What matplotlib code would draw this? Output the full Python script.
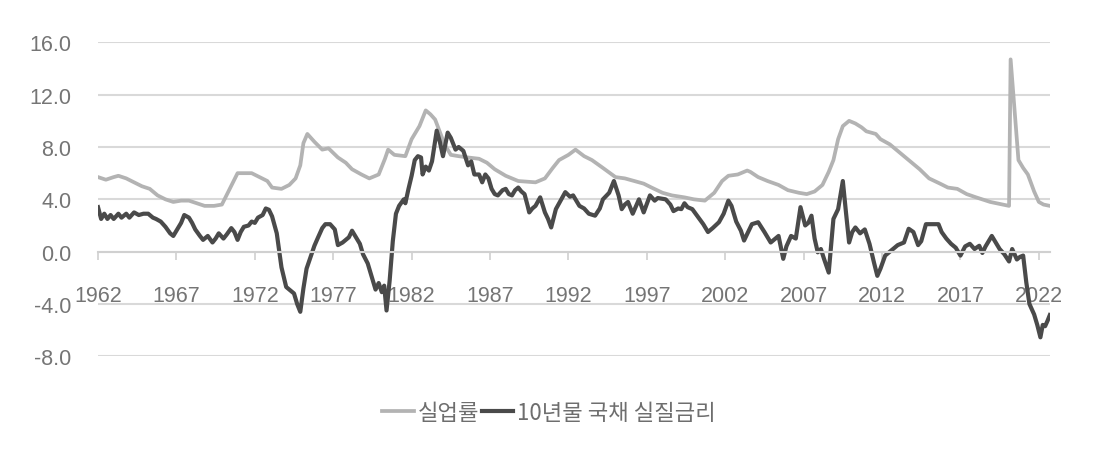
import matplotlib
matplotlib.use("Agg")
import matplotlib.pyplot as plt

# 실업률 (unemployment rate)
unemp_years = [
    1962.0, 1962.5, 1963.0, 1963.3, 1963.8, 1964.3, 1964.8, 1965.3, 1965.8, 1966.3,
    1966.8, 1967.3, 1967.8, 1968.3, 1968.8, 1969.4, 1969.9, 1970.4, 1970.9, 1971.3,
    1971.8, 1972.3, 1972.8, 1973.1, 1973.7, 1974.2, 1974.6, 1974.9, 1975.1, 1975.35,
    1975.8, 1976.3, 1976.7, 1977.3, 1977.8, 1978.2, 1978.8, 1979.3, 1979.9, 1980.3,
    1980.5, 1980.9, 1981.6, 1982.0, 1982.5, 1982.9, 1983.2, 1983.5, 1984.1, 1984.5,
    1985.0, 1985.6, 1986.3, 1986.8, 1987.3, 1988.0, 1988.8, 1989.9, 1990.5, 1991.0,
    1991.4, 1992.0, 1992.45, 1993.0, 1993.5, 1994.2, 1995.0, 1995.6, 1996.2, 1996.8,
    1997.3, 1998.0, 1998.6, 1999.4, 2000.0, 2000.7, 2001.3, 2001.8, 2002.2, 2002.8,
    2003.4, 2003.6, 2004.1, 2004.7, 2005.4, 2006.0, 2006.7, 2007.2, 2007.7, 2008.2,
    2008.6, 2008.9, 2009.2, 2009.5, 2009.9, 2010.3, 2010.7, 2011.0, 2011.6, 2011.9,
    2012.5, 2013.1, 2013.7, 2014.4, 2015.0, 2015.7, 2016.2, 2016.8, 2017.4, 2018.0,
    2018.9, 2019.5, 2020.1, 2020.2, 2020.7, 2021.0, 2021.3, 2021.7, 2022.0, 2022.3,
    2022.7,
]
unemp_values = [
    5.7, 5.5, 5.7, 5.8, 5.6, 5.3, 5.0, 4.8, 4.3, 4.0,
    3.8, 3.9, 3.9, 3.7, 3.5, 3.5, 3.6, 4.8, 6.0, 6.0,
    6.0, 5.7, 5.4, 4.9, 4.8, 5.1, 5.6, 6.6, 8.3, 9.0,
    8.4, 7.8, 7.9, 7.2, 6.8, 6.3, 5.9, 5.6, 5.9, 7.1,
    7.8, 7.4, 7.3, 8.6, 9.6, 10.8, 10.5, 10.1, 8.2, 7.4,
    7.3, 7.2, 7.1, 6.8, 6.3, 5.8, 5.4, 5.3, 5.6, 6.4,
    7.0, 7.4, 7.8, 7.3, 7.0, 6.4, 5.7, 5.6, 5.4, 5.2,
    4.9, 4.5, 4.3, 4.15, 4.0, 3.9, 4.5, 5.4, 5.8, 5.9,
    6.2, 6.1, 5.7, 5.4, 5.1, 4.7, 4.5, 4.4, 4.6, 5.1,
    6.1, 7.0, 8.6, 9.6, 10.0, 9.8, 9.5, 9.2, 9.0, 8.6,
    8.2, 7.6, 7.0, 6.3, 5.6, 5.2, 4.9, 4.8, 4.4, 4.15,
    3.8, 3.65, 3.5, 14.7, 7.0, 6.4, 5.9, 4.6, 3.8, 3.6,
    3.5,
]

real_years = [
    1962.0, 1962.2, 1962.4, 1962.6, 1962.8, 1963.0, 1963.3, 1963.5, 1963.8, 1964.0,
    1964.3, 1964.6, 1964.9, 1965.2, 1965.5, 1965.7, 1966.0, 1966.3, 1966.6, 1966.8,
    1967.0, 1967.3, 1967.5, 1967.8, 1968.0, 1968.2, 1968.5, 1968.7, 1969.0, 1969.3,
    1969.5, 1969.7, 1970.0, 1970.2, 1970.5, 1970.7, 1970.9, 1971.1, 1971.3, 1971.6,
    1971.8, 1972.0, 1972.2, 1972.5, 1972.7, 1972.9, 1973.1, 1973.4, 1973.7, 1974.0,
    1974.3, 1974.5, 1974.7, 1974.9, 1975.1, 1975.3, 1975.5, 1975.8, 1976.0, 1976.3,
    1976.5, 1976.8, 1977.1, 1977.3, 1977.6, 1977.8, 1978.0, 1978.2, 1978.5, 1978.7,
    1978.9, 1979.2, 1979.5, 1979.7, 1979.9, 1980.1, 1980.25, 1980.4, 1980.6, 1980.8,
    1981.0, 1981.2, 1981.5, 1981.6, 1981.8, 1982.0, 1982.2, 1982.4, 1982.6, 1982.7,
    1982.9, 1983.1, 1983.3, 1983.6, 1983.8, 1984.0, 1984.3, 1984.5, 1984.8, 1985.0,
    1985.3, 1985.6, 1985.8, 1986.0, 1986.3, 1986.5, 1986.7, 1986.9, 1987.1, 1987.3,
    1987.5, 1987.8, 1988.0, 1988.2, 1988.4, 1988.6, 1988.8, 1989.0, 1989.2, 1989.4,
    1989.5, 1989.7, 1989.9, 1990.2, 1990.5, 1990.7, 1990.9, 1991.2, 1991.5, 1991.8,
    1992.1, 1992.3, 1992.7, 1993.0, 1993.3, 1993.7, 1994.0, 1994.2, 1994.6, 1994.9,
    1995.2, 1995.4, 1995.6, 1995.8, 1996.1, 1996.5, 1996.8, 1997.2, 1997.5, 1997.7,
    1998.2, 1998.5, 1998.7, 1999.0, 1999.2, 1999.4, 1999.6, 1999.9, 2000.3, 2000.6,
    2000.9, 2001.2, 2001.6, 2001.9, 2002.2, 2002.4, 2002.7, 2003.0, 2003.2, 2003.5,
    2003.7, 2004.1, 2004.5, 2004.9, 2005.2, 2005.4, 2005.7, 2005.9, 2006.2, 2006.5,
    2006.8, 2007.1, 2007.3, 2007.5, 2007.7, 2007.9, 2008.1, 2008.3, 2008.6, 2008.9,
    2009.2, 2009.5, 2009.7, 2009.9, 2010.1, 2010.3, 2010.6, 2010.9, 2011.2, 2011.5,
    2011.7, 2011.9, 2012.2, 2012.5, 2012.8, 2013.0, 2013.4, 2013.7, 2014.0, 2014.3,
    2014.5, 2014.8, 2015.2, 2015.6, 2015.8, 2016.1, 2016.4, 2016.7, 2017.0, 2017.3,
    2017.6, 2017.9, 2018.2, 2018.4, 2018.6, 2019.0, 2019.3, 2019.5, 2019.8, 2020.1,
    2020.3, 2020.6, 2020.8, 2021.0, 2021.2, 2021.4, 2021.7, 2021.9, 2022.1, 2022.25,
    2022.4, 2022.55, 2022.7,
]
real_values = [
    3.4, 2.5, 2.9, 2.5, 2.8, 2.5, 2.9, 2.6, 2.9, 2.6,
    3.0, 2.8, 2.9, 2.9, 2.6, 2.5, 2.3, 1.9, 1.4, 1.2,
    1.6, 2.2, 2.8, 2.6, 2.2, 1.7, 1.2, 0.9, 1.2, 0.7,
    1.0, 1.4, 1.0, 1.3, 1.8, 1.5, 0.9, 1.5, 1.9, 2.0,
    2.3, 2.2, 2.6, 2.8, 3.3, 3.2, 2.7, 1.4, -1.2, -2.7,
    -3.0, -3.2, -4.0, -4.6, -2.8, -1.3, -0.6, 0.45, 1.0, 1.8,
    2.1, 2.1, 1.7, 0.5, 0.7, 0.9, 1.1, 1.6, 1.0, 0.6,
    -0.2, -0.9, -2.1, -2.9, -2.4, -3.1, -2.6, -4.5, -2.2, 0.8,
    2.9, 3.5, 4.0, 3.7, 4.8, 5.8, 7.0, 7.3, 7.2, 5.9,
    6.5, 6.2, 6.9, 9.25, 8.4, 7.3, 9.1, 8.7, 7.8, 8.0,
    7.7, 6.6, 6.9, 5.9, 5.9, 5.3, 5.9, 5.6, 4.8, 4.4,
    4.3, 4.7, 4.8, 4.4, 4.3, 4.7, 4.9, 4.6, 4.4, 3.5,
    3.0, 3.3, 3.5, 4.15, 3.0, 2.5, 1.85, 3.25, 3.9, 4.55,
    4.2, 4.3, 3.5, 3.3, 2.9, 2.75, 3.3, 4.0, 4.5, 5.4,
    4.3, 3.25, 3.6, 3.8, 2.9, 4.0, 3.0, 4.3, 3.9, 4.1,
    4.0, 3.6, 3.1, 3.3, 3.25, 3.7, 3.4, 3.25, 2.6, 2.1,
    1.5, 1.8, 2.25, 2.9, 3.9, 3.5, 2.3, 1.6, 0.85, 1.6,
    2.1, 2.25, 1.5, 0.7, 1.0, 1.2, -0.55, 0.4, 1.2, 1.0,
    3.4, 2.0, 2.2, 2.75, 1.0, -0.05, 0.2, -0.55, -1.6, 2.5,
    3.25, 5.4, 3.0, 0.7, 1.5, 1.85, 1.4, 1.7, 0.6, -0.9,
    -1.85, -1.3, -0.3, 0.0, 0.3, 0.5, 0.7, 1.75, 1.5, 0.5,
    0.8, 2.1, 2.1, 2.1, 1.5, 1.0, 0.6, 0.3, -0.3, 0.4,
    0.6, 0.2, 0.45, -0.1, 0.4, 1.2, 0.6, 0.2, -0.2, -0.75,
    0.2, -0.6, -0.4, -0.3, -2.35, -4.0, -4.8, -5.6, -6.55, -5.6,
    -5.7, -5.3, -4.85,
]

x_ticks = list(range(1962, 2023, 5))
y_ticks = [-8, -4, 0, 4, 8, 12, 16]

fig = plt.figure(figsize=(11.05, 4.6), dpi=100)
ax = fig.add_axes([0.0887, 0.2233, 0.8615, 0.6824])

ax.plot(unemp_years, unemp_values, color="#b3b3b3", lw=2.7, label="실업률",
        solid_joinstyle="round")
ax.plot(real_years, real_values, color="#4a4a4a", lw=3.0, label="10년물 국채 실질금리",
        solid_joinstyle="round")

ax.set_xlim(1962, 2022.71)
ax.set_ylim(-8, 16)
ax.set_yticks(y_ticks)
ax.set_yticklabels([f"{v:.1f}" for v in y_ticks])
ax.set_xticks(x_ticks)
ax.set_xticklabels([str(v) for v in x_ticks])

ax.grid(axis="y", color="#d9d9d9", lw=1.5)
ax.set_axisbelow(True)
for s in ["top", "right", "left"]:
    ax.spines[s].set_visible(False)
ax.spines["bottom"].set_position(("data", 0))
ax.spines["bottom"].set_color("#d0d0d0")
ax.spines["bottom"].set_linewidth(1.5)

ax.tick_params(axis="y", length=0, pad=19, labelcolor="#757575")
ax.tick_params(axis="x", length=6, width=1.2, color="#d0d0d0", pad=18,
               labelcolor="#757575", direction="out")
for lab in ax.get_xticklabels() + ax.get_yticklabels():
    lab.set_fontfamily("Liberation Sans")
    lab.set_fontsize(15.5)

leg = ax.legend(loc="center", bbox_to_anchor=(0.497, 0.102), bbox_transform=fig.transFigure,
                ncol=2, frameon=False, handlelength=1.4, handletextpad=0.2,
                columnspacing=0.1,
                prop={"family": ["Noto Sans CJK KR", "DejaVu Sans"], "size": 16, "weight": "medium"})
for t in leg.get_texts():
    t.set_color("#6e6e6e")

fig.savefig("out.png", dpi=100)
